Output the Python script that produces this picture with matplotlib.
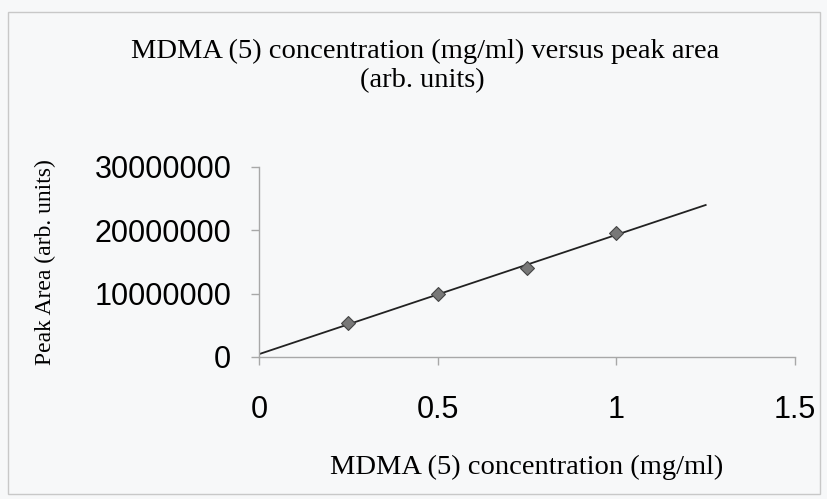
import matplotlib
matplotlib.use('Agg')
import matplotlib.pyplot as plt
from matplotlib.patches import Rectangle
import numpy as np

# MDMA (5) calibration: concentration (mg/ml) vs peak area (arb. units)
conc = [0.25, 0.5, 0.75, 1.0]
peak_area = [5300000, 9900000, 14100000, 19600000]
x_ticks = [0, 0.5, 1, 1.5]
y_ticks = [0, 10000000, 20000000, 30000000]
trend_range = [0, 1.25]

fig = plt.figure(figsize=(8.27, 4.99), dpi=100)
fig.patch.set_facecolor('#f7f8f9')
fig.patches.append(Rectangle((8 / 827, 5 / 499), 812 / 827, 482 / 499,
                             transform=fig.transFigure, fill=False,
                             edgecolor='#c8c8c8', linewidth=1.0))

ax = fig.add_axes([259 / 827, 1 - 357 / 499, 536 / 827, 190 / 499])
ax.set_facecolor('none')

# linear trendline, forecast forward to 1.25
slope, icpt = np.polyfit(conc, peak_area, 1)
xt = np.array(trend_range)
ax.plot(xt, slope * xt + icpt, color='#222222', linewidth=1.3, zorder=2)
ax.scatter(conc, peak_area, marker='D', s=50, color='#787878',
           edgecolor='#454545', linewidth=0.8, zorder=3)

ax.set_xlim(0, 1.5)
ax.set_ylim(0, 30000000)
ax.set_xticks(x_ticks)
ax.set_xticklabels(['0', '0.5', '1', '1.5'])
ax.set_yticks(y_ticks)
ax.set_yticklabels([str(v) for v in y_ticks])
for lab in ax.get_xticklabels() + ax.get_yticklabels():
    lab.set_family('Liberation Sans')
    lab.set_fontsize(22)
ax.tick_params(axis='both', colors='#a8a8a8', labelcolor='black',
               length=6, width=1.0, direction='out')
ax.tick_params(axis='y', pad=14)
ax.tick_params(axis='x', pad=21)
for side in ['top', 'right']:
    ax.spines[side].set_visible(False)
for side in ['left', 'bottom']:
    ax.spines[side].set_color('#a8a8a8')
    ax.spines[side].set_linewidth(1.0)

serif = 'Liberation Serif'
fig.text(425 / 827, 1 - 51 / 499,
         'MDMA (5) concentration (mg/ml) versus peak area',
         ha='center', va='center', family=serif, fontsize=20.5)
fig.text(422 / 827, 1 - 81 / 499, '(arb. units)',
         ha='center', va='center', family=serif, fontsize=20.5)
fig.text(527 / 827, 1 - 467 / 499, 'MDMA (5) concentration (mg/ml)',
         ha='center', va='center', family=serif, fontsize=20.5)
fig.text(45 / 827, 1 - 262 / 499, 'Peak Area (arb. units)',
         ha='center', va='center', rotation=90, family=serif, fontsize=17)

fig.savefig('out.png', dpi=100, facecolor=fig.get_facecolor())
